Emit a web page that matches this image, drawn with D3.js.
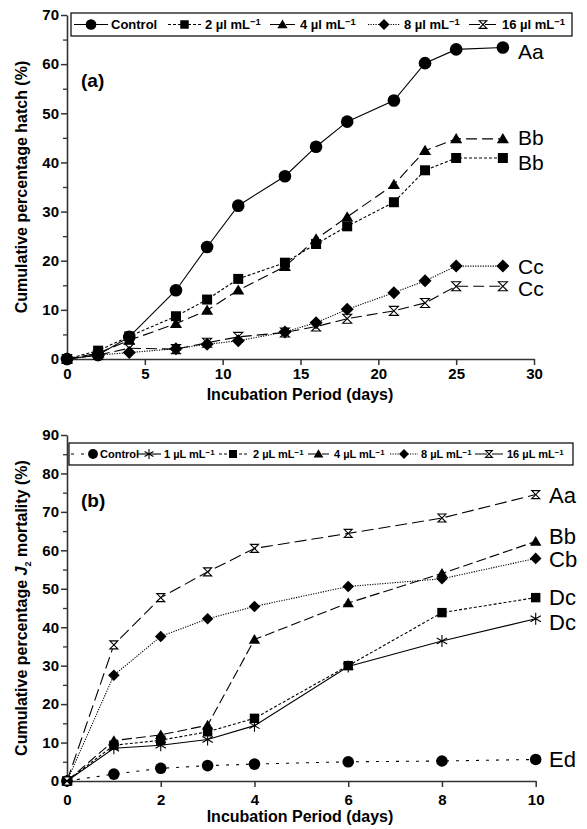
<!DOCTYPE html>
<html>
<head>
<meta charset="utf-8">
<script src="https://cdn.jsdelivr.net/npm/d3@7"></script>
<style>
  body { margin: 0; background: #fff; }
  svg { display: block; font-family: "Liberation Sans", Arial, sans-serif; }
</style>
</head>
<body>
<div id="display"></div>
<script>
// ---- data ----
// panel (a): cumulative hatch
const daysA = [0, 2, 4, 7, 9, 11, 14, 16, 18, 21, 23, 25, 28];
const hatchControl = [0, 0.8, 4.5, 14.0, 22.8, 31.2, 37.2, 43.2, 48.3, 52.6, 60.2, 63.0, 63.4];
const hatch2 = [0, 1.7, 4.6, 8.7, 12.1, 16.3, 19.6, 23.4, 27.0, 31.9, 38.4, 40.9, 40.9];
const hatch4 = [0, 1.2, 3.8, 7.2, 9.9, 14.0, 18.8, 24.4, 28.9, 35.5, 42.4, 44.8, 44.8];
const hatch8 = [0, 0.8, 1.3, 2.1, 3.0, 3.7, 5.5, 7.4, 10.1, 13.5, 15.9, 18.9, 18.9];
const hatch16 = [0, 0.8, 2.2, 2.0, 3.3, 4.5, 5.4, 6.6, 8.2, 9.8, 11.4, 14.8, 14.8];
const seriesNamesA = ['Control', '2 µl mL', '4 µl mL', '8 µl mL', '16 µl mL'];
const lettersA = ['Aa', 'Bb', 'Bb', 'Cc', 'Cc']; // control, 4, 2, 8, 16
const ticksXA = [0, 5, 10, 15, 20, 25, 30];

// panel (b): cumulative J2 mortality
const daysB = [0, 1, 2, 3, 4, 6, 8, 10];
const mortControl = [0, 1.8, 3.3, 4.0, 4.4, 5.0, 5.2, 5.6];
const mort1 = [0, 8.5, 9.3, 10.8, 14.4, 29.8, 36.4, 42.2];
const mort2 = [0, 9.3, 10.6, 12.8, 16.3, 30.0, 43.8, 47.7];
const mort4 = [0, 10.5, 12.0, 14.5, 36.8, 46.3, 54.0, 62.3];
const mort8 = [0, 27.5, 37.6, 42.2, 45.4, 50.6, 52.6, 57.9];
const mort16 = [0, 35.4, 47.7, 54.4, 60.5, 64.4, 68.4, 74.5];
const seriesNamesB = ['Control', '1 µL mL', '2 µL mL', '4 µL mL', '8 µL mL', '16 µL mL'];
const lettersB = ['Aa', 'Bb', 'Cb', 'Dc', 'Dc', 'Ed']; // 16, 4, 8, 2, 1, control
const ticksXB = [0, 2, 4, 6, 8, 10];

const W = 587, H = 829;
const svg = d3.select('#display').append('svg')
    .attr('width', W).attr('height', H);

// marker shapes
function marker(g, type, s) {
    if (type === 'circle') {
        g.append('circle').attr('r', s).attr('fill', '#000');
    } else if (type === 'square') {
        g.append('rect').attr('x', -s).attr('y', -s).attr('width', 2 * s).attr('height', 2 * s).attr('fill', '#000');
    } else if (type === 'triangle') {
        g.append('path').attr('d', `M0,${-s * 1.05}L${s * 1.1},${s * 0.8}L${-s * 1.1},${s * 0.8}Z`).attr('fill', '#000');
    } else if (type === 'diamond') {
        g.append('path').attr('d', `M0,${-s}L${s},0L0,${s}L${-s},0Z`).attr('fill', '#000');
    } else if (type === 'hourglass') {
        g.append('path').attr('d', `M${-s},${-s}H${s}L${-s},${s}H${s}Z`)
            .attr('fill', '#fff').attr('stroke', '#000').attr('stroke-width', 1.1);
    } else if (type === 'asterisk') {
        let u = s * Math.sqrt(3) / 2, t = s / 2;
        g.append('path').attr('d', `M0,${-s}V${s}M${-u},${-t}L${u},${t}M${-u},${t}L${u},${-t}`)
            .attr('fill', 'none').attr('stroke', '#000').attr('stroke-width', 1.1);
    }
}

function panel(cfg) {
    const x = d3.scaleLinear().domain(cfg.xDomain).range([67, cfg.xRight]);
    const y = d3.scaleLinear().domain(cfg.yDomain).range([cfg.yBottom, cfg.yTop]);
    const g = svg.append('g');

    // minor y ticks
    g.append('g').attr('transform', 'translate(67,0)')
        .call(d3.axisLeft(y).tickValues(d3.range(5, cfg.yDomain[1], 10)).tickSize(4).tickFormat(''))
        .call(a => a.select('.domain').remove())
        .call(a => a.selectAll('line').attr('stroke', '#333').attr('stroke-width', 1.3));
    // major y axis
    g.append('g').attr('transform', 'translate(67,0)')
        .call(d3.axisLeft(y).tickValues(d3.range(0, cfg.yDomain[1] + 1, 10)).tickSize(6).tickSizeOuter(0).tickPadding(2))
        .call(a => a.select('.domain').attr('stroke', '#333').attr('stroke-width', 1.6))
        .call(a => a.selectAll('line').attr('stroke', '#333').attr('stroke-width', 1.5))
        .call(a => a.selectAll('text').attr('font-size', 15).attr('font-weight', 'bold').attr('fill', '#000'));
    // x axis
    g.append('g').attr('transform', `translate(0,${cfg.yBottom})`)
        .call(d3.axisBottom(x).tickValues(cfg.xTicks).tickSize(6).tickSizeOuter(0).tickPadding(cfg.xPad))
        .call(a => a.select('.domain').attr('stroke', '#333').attr('stroke-width', 1.6))
        .call(a => a.selectAll('line').attr('stroke', '#333').attr('stroke-width', 1.5))
        .call(a => a.selectAll('text').attr('font-size', 15).attr('font-weight', 'bold').attr('fill', '#000'));

    // axis titles
    g.append('text').attr('x', 300).attr('y', cfg.yBottom + 41)
        .attr('text-anchor', 'middle').attr('font-size', 16).attr('font-weight', 'bold')
        .text('Incubation Period (days)');
    cfg.yTitle(g.append('text')
        .attr('transform', `translate(27,${(cfg.yTop + cfg.yBottom) / 2}) rotate(-90)`)
        .attr('text-anchor', 'middle').attr('font-size', 16).attr('font-weight', 'bold'));

    // panel letter
    g.append('text').attr('x', 81).attr('y', cfg.yTop + 72)
        .attr('font-size', 19).attr('font-weight', 'bold').text(cfg.tag);

    // series
    const line = d3.line().x(d => x(d[0])).y(d => y(d[1]));
    cfg.series.forEach(s => {
        const pts = cfg.days.map((d, i) => [d, s.values[i]]);
        g.append('path').datum(pts).attr('d', line)
            .attr('fill', 'none').attr('stroke', '#000').attr('stroke-width', 1.1)
            .attr('stroke-dasharray', s.dash);
        g.selectAll(null).data(pts).enter().append('g')
            .attr('transform', d => `translate(${x(d[0])},${y(d[1])})`)
            .each(function () { marker(d3.select(this), s.shape, s.size); });
        // end letter
        const last = pts[pts.length - 1];
        g.append('text').attr('x', cfg.letterX).attr('y', y(last[1]) + s.nudge)
            .attr('dy', '0.35em').attr('font-size', cfg.letterSize).text(s.letter);
    });

    // legend
    const lg = g.append('g');
    lg.append('rect').attr('x', cfg.legend.x0).attr('y', cfg.legend.y0)
        .attr('width', cfg.legend.x1 - cfg.legend.x0).attr('height', cfg.legend.h)
        .attr('fill', '#fff').attr('stroke', '#000').attr('stroke-width', 1.2);
    const cy = cfg.legend.y0 + cfg.legend.h / 2;
    cfg.series.slice().sort((a, b) => a.order - b.order).forEach((s, i) => {
        const it = cfg.legend.items[i];
        lg.append('line').attr('x1', Math.max(it.l0, cfg.legend.x0 + 2)).attr('x2', it.l1)
            .attr('y1', cy).attr('y2', cy).attr('stroke', '#000').attr('stroke-width', 1.1)
            .attr('stroke-dasharray', s.dash);
        const mx = it.mx !== undefined ? it.mx : (it.l0 + it.l1) / 2;
        marker(lg.append('g').attr('transform', `translate(${mx},${cy})`), s.shape, s.size * cfg.legend.mScale);
        const t = lg.append('text').attr('x', it.tx).attr('y', cy).attr('dy', '0.36em')
            .attr('font-size', cfg.legend.fs).attr('font-weight', 'bold').text(s.name);
        if (s.order > 0) {
            t.append('tspan').attr('dy', '-0.4em').attr('font-size', cfg.legend.fs * 0.72).text('−1');
        }
    });
}

panel({
    tag: '(a)',
    xDomain: [0, 30], xRight: 534, xTicks: ticksXA, xPad: 3,
    yDomain: [0, 70], yTop: 15, yBottom: 359,
    days: daysA, letterX: 518, letterSize: 21,
    yTitle: t => t.text('Cumulative percentage hatch (%)'),
    series: [
        {name: seriesNamesA[4], values: hatch16, shape: 'hourglass', size: 4.5, dash: '11,5', letter: lettersA[4], nudge: 2, order: 4},
        {name: seriesNamesA[3], values: hatch8, shape: 'diamond', size: 6.5, dash: '1.2,1.3', letter: lettersA[3], nudge: 1, order: 3},
        {name: seriesNamesA[2], values: hatch4, shape: 'triangle', size: 5.5, dash: '11,5', letter: lettersA[1], nudge: -1, order: 2},
        {name: seriesNamesA[1], values: hatch2, shape: 'square', size: 5, dash: '3,2', letter: lettersA[2], nudge: 5, order: 1},
        {name: seriesNamesA[0], values: hatchControl, shape: 'circle', size: 6.3, dash: null, letter: lettersA[0], nudge: 4, order: 0}
    ],
    legend: {
        x0: 71, x1: 572, y0: 13, h: 23, fs: 13, mScale: 0.85,
        items: [
            {l0: 74, l1: 108, tx: 111},
            {l0: 168, l1: 201, tx: 205},
            {l0: 270, l1: 295, tx: 300},
            {l0: 368, l1: 400, tx: 404},
            {l0: 469, l1: 497, tx: 502}
        ]
    }
});

panel({
    tag: '(b)',
    xDomain: [0, 10], xRight: 535.7, xTicks: ticksXB, xPad: 7,
    yDomain: [0, 90], yTop: 435, yBottom: 781,
    days: daysB, letterX: 549, letterSize: 22,
    yTitle: t => {
        t.append('tspan').text('Cumulative percentage ');
        t.append('tspan').attr('font-style', 'italic').text('J');
        t.append('tspan').attr('dy', 4).attr('font-size', 9).text('2');
        t.append('tspan').attr('dy', -4).text('  mortality (%)');
    },
    series: [
        {name: seriesNamesB[0], values: mortControl, shape: 'circle', size: 5.8, dash: '3,7', letter: lettersB[5], nudge: 0, order: 0},
        {name: seriesNamesB[1], values: mort1, shape: 'asterisk', size: 6, dash: null, letter: lettersB[4], nudge: 4, order: 1},
        {name: seriesNamesB[2], values: mort2, shape: 'square', size: 4.7, dash: '3,2', letter: lettersB[3], nudge: 0, order: 2},
        {name: seriesNamesB[3], values: mort4, shape: 'triangle', size: 5.2, dash: '10,4', letter: lettersB[1], nudge: -5, order: 3},
        {name: seriesNamesB[4], values: mort8, shape: 'diamond', size: 5.8, dash: '1.2,1.3', letter: lettersB[2], nudge: 1, order: 4},
        {name: seriesNamesB[5], values: mort16, shape: 'hourglass', size: 4, dash: '12,5', letter: lettersB[0], nudge: 1, order: 5}
    ],
    legend: {
        x0: 69, x1: 573, y0: 443, h: 22, fs: 11, mScale: 0.85,
        items: [
            {l0: 70, l1: 85, mx: 93, tx: 100},
            {l0: 137, l1: 161, tx: 164},
            {l0: 219, l1: 247, tx: 253},
            {l0: 308, l1: 329, tx: 334},
            {l0: 390, l1: 418, tx: 421},
            {l0: 475, l1: 503, tx: 507}
        ]
    }
});
</script>
</body>
</html>
